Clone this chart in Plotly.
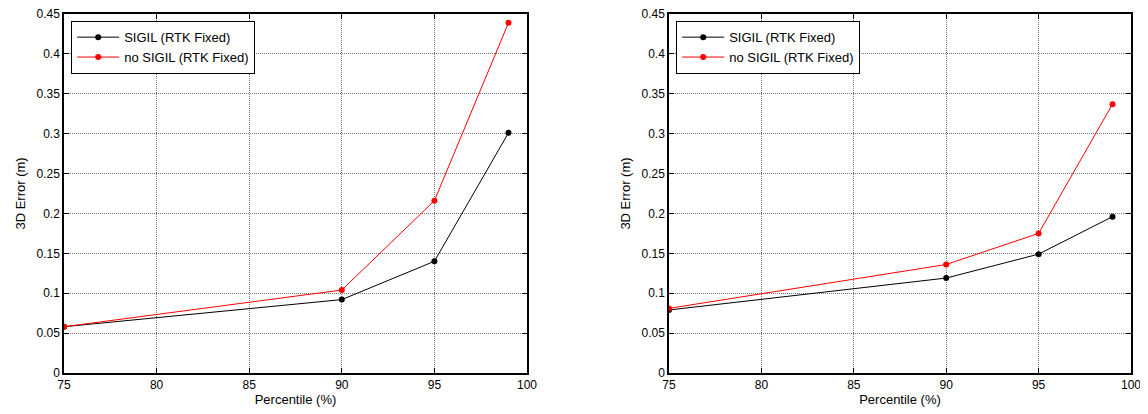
import plotly.graph_objects as go

percentile = [75, 90, 95, 99]
left_sigil = [0.058, 0.092, 0.140, 0.301]
left_nosigil = [0.058, 0.104, 0.216, 0.439]
right_sigil = [0.079, 0.119, 0.149, 0.196]
right_nosigil = [0.081, 0.136, 0.175, 0.337]
series_names = ["SIGIL (RTK Fixed)", "no SIGIL (RTK Fixed)"]
x_ticks = [75, 80, 85, 90, 95, 100]
y_ticks = [0, 0.05, 0.1, 0.15, 0.2, 0.25, 0.3, 0.35, 0.4, 0.45]
y_tick_text = ["0", "0.05", "0.1", "0.15", "0.2", "0.25", "0.3", "0.35", "0.4", "0.45"]

FONT = "Liberation Sans, Arial, sans-serif"
fig = go.Figure()

def add_pair(sig, nosig, xa, ya, leg):
    fig.add_trace(go.Scatter(x=percentile, y=sig, mode="lines+markers", name=series_names[0],
                             line=dict(color="black", width=1), marker=dict(color="black", size=6),
                             xaxis=xa, yaxis=ya, legend=leg))
    fig.add_trace(go.Scatter(x=percentile, y=nosig, mode="lines+markers", name=series_names[1],
                             line=dict(color="red", width=1), marker=dict(color="red", size=6),
                             xaxis=xa, yaxis=ya, legend=leg))

add_pair(left_sigil, left_nosigil, "x", "y", "legend")
add_pair(right_sigil, right_nosigil, "x2", "y2", "legend2")

# page body has an 8px margin; positions below are screen pixels minus 8
OFF = 8
W, H = 1148 - OFF, 414 - OFF
def px(x):
    return (x - OFF) / W
def py(y):
    return 1 - (y - OFF) / H

ax_common = dict(showline=True, linecolor="black", linewidth=1.5, mirror="ticks", ticks="inside",
                 ticklen=5, tickcolor="black", showgrid=True, gridcolor="#7a7a7a", griddash="1px,1px",
                 gridwidth=1, zeroline=False, automargin=False, ticklabeloverflow="allow",
                 tickfont=dict(family=FONT, size=12, color="black"))

xax = dict(ax_common, range=[75, 100], tickvals=x_ticks,
           title=dict(text="Percentile (%)", font=dict(family=FONT, size=13, color="black"), standoff=4))
yax = dict(ax_common, range=[0, 0.45], tickvals=y_ticks, ticktext=y_tick_text,
           title=dict(text="3D Error (m)", font=dict(family=FONT, size=13, color="black"), standoff=8))

leg_common = dict(xanchor="left", yanchor="top", bordercolor="black", borderwidth=1.2,
                  bgcolor="white", font=dict(family=FONT, size=13), tracegroupgap=0, itemwidth=42)

fig.update_layout(
    width=W, height=H, margin=dict(l=0, r=0, t=0, b=0, autoexpand=False),
    paper_bgcolor="white", plot_bgcolor="white",
    font=dict(family=FONT, size=12, color="black"),
    xaxis=dict(xax, domain=[px(64), px(527)], anchor="y"),
    yaxis=dict(yax, domain=[py(373), py(14)], anchor="x"),
    xaxis2=dict(xax, domain=[px(669), px(1131)], anchor="y2"),
    yaxis2=dict(yax, domain=[py(373), py(14)], anchor="x2"),
    legend=dict(leg_common, x=px(71), y=py(21)),
    legend2=dict(leg_common, x=px(676), y=py(21)),
)

fig.write_html("out.html")
